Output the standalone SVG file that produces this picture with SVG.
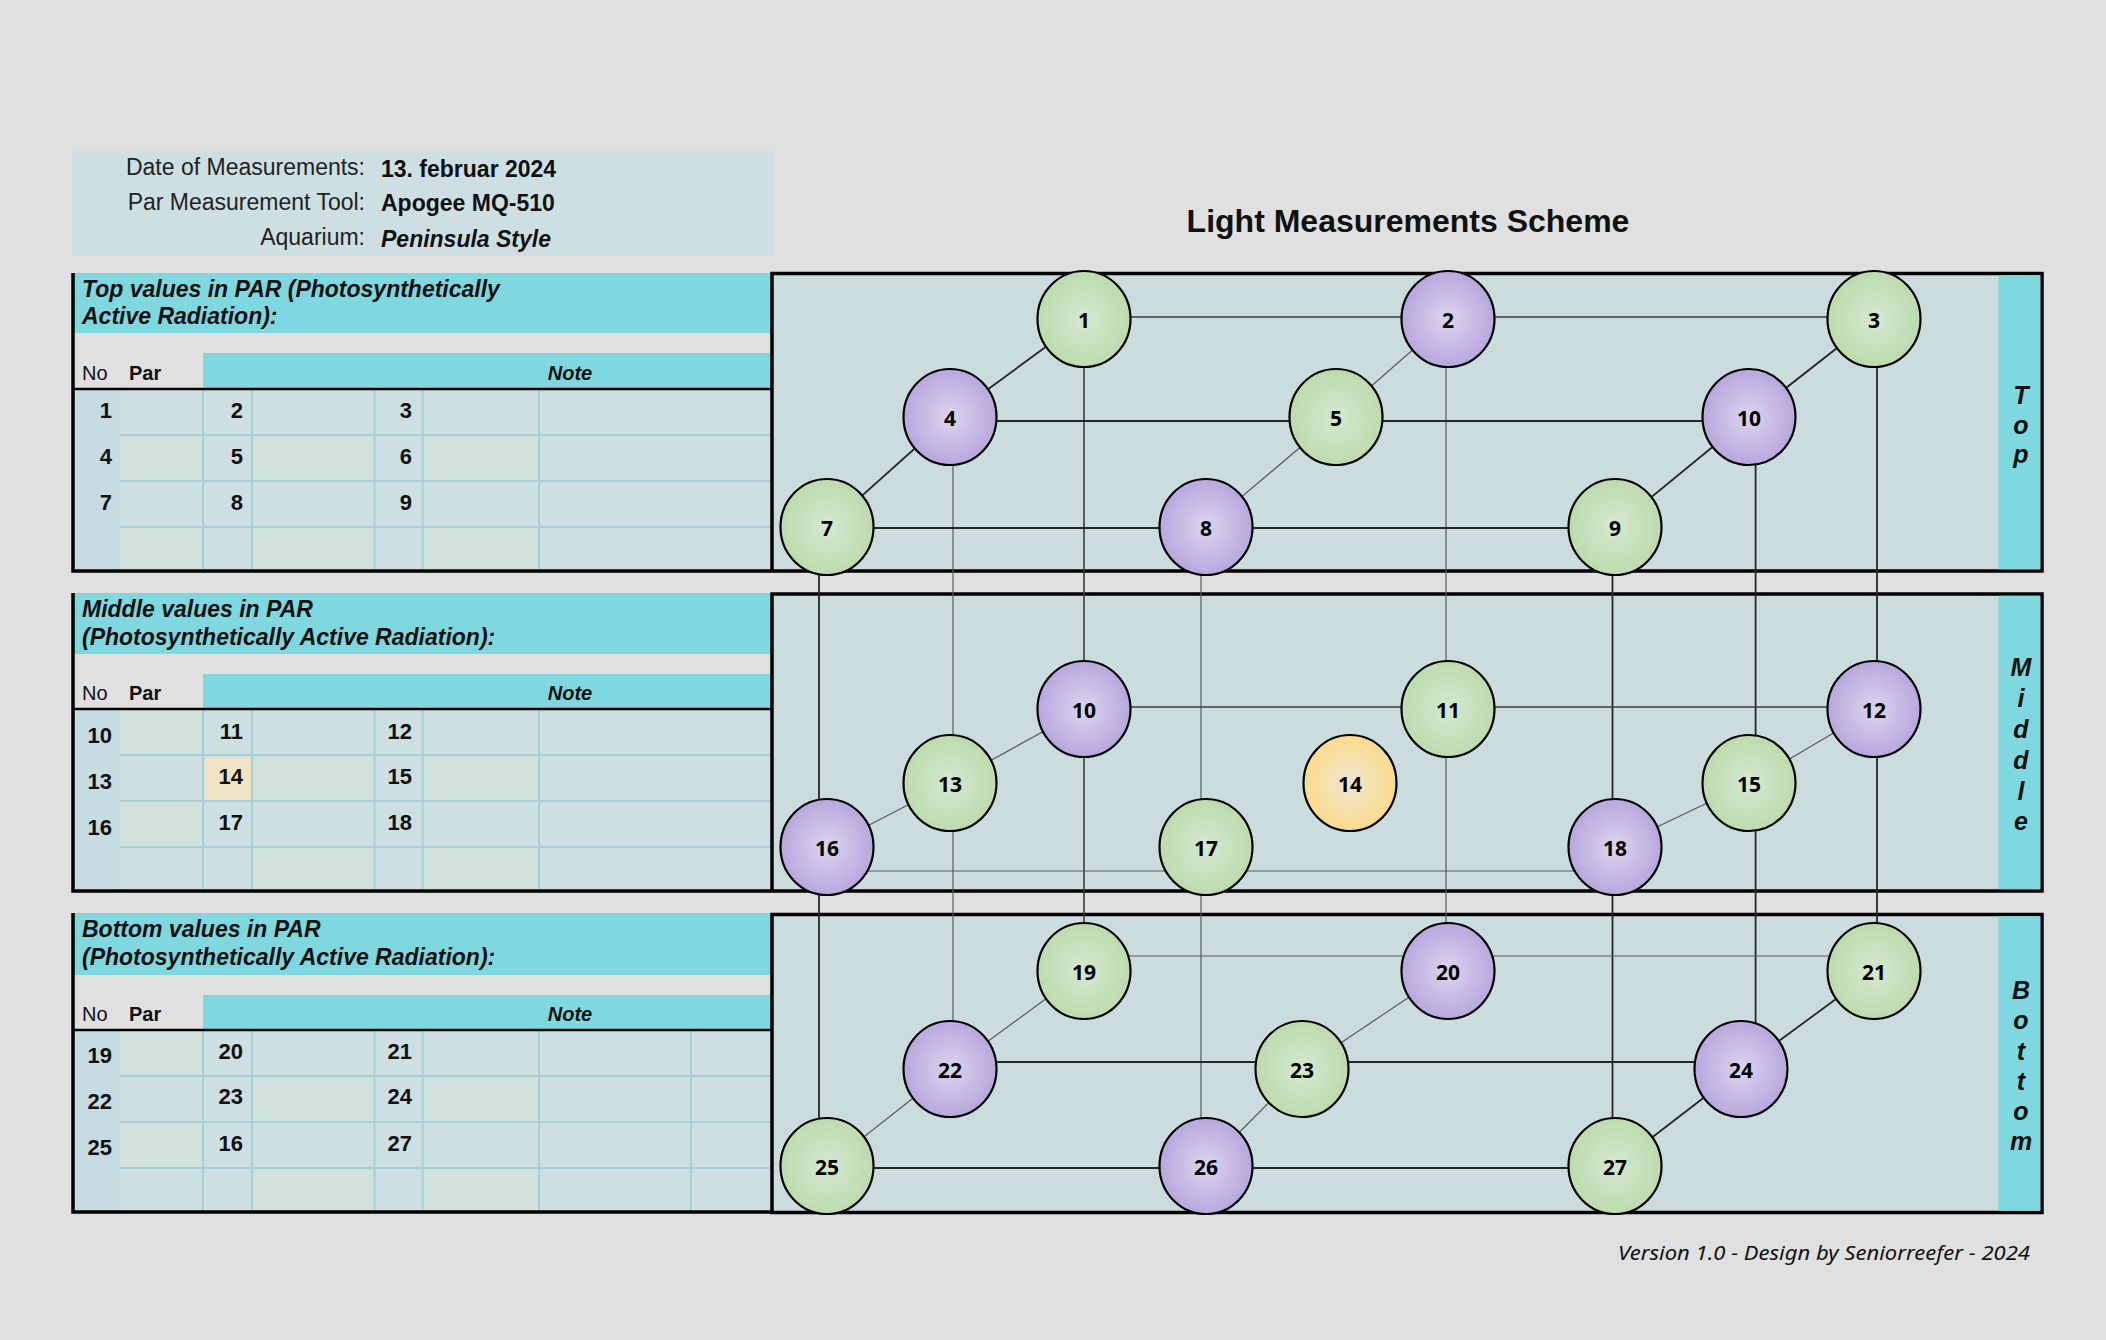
<svg xmlns="http://www.w3.org/2000/svg" width="2106" height="1340" viewBox="0 0 2106 1340">
<defs>
<radialGradient id="gG" cx="50%" cy="50%" r="55%"><stop offset="0%" stop-color="#d6e8d1"/><stop offset="100%" stop-color="#badaaa"/></radialGradient>
<radialGradient id="gP" cx="50%" cy="50%" r="55%"><stop offset="0%" stop-color="#dcd5ee"/><stop offset="100%" stop-color="#b4a3dc"/></radialGradient>
<radialGradient id="gY" cx="50%" cy="50%" r="55%"><stop offset="0%" stop-color="#efe6d2"/><stop offset="100%" stop-color="#fcda84"/></radialGradient>
<style>
.bg{fill:#e0e0e0}
.info{fill:#cddfe3}
.lbl{font-family:"Liberation Sans",Arial,sans-serif;font-size:23px;fill:#222;text-anchor:end}
.val{font-family:"Liberation Sans",Arial,sans-serif;font-size:23px;font-weight:bold;fill:#111}
.vali{font-family:"Liberation Sans",Arial,sans-serif;font-size:23px;font-weight:bold;font-style:italic;fill:#111}
.title{font-family:"Liberation Sans",Arial,sans-serif;font-size:32px;font-weight:bold;fill:#111;text-anchor:middle}
.band{fill:#7fd8df}
.ttl{font-family:"Liberation Sans",Arial,sans-serif;font-size:23px;font-weight:bold;font-style:italic;fill:#111}
.hd{font-family:"Liberation Sans",Arial,sans-serif;font-size:20px;fill:#111}
.hdb{font-family:"Liberation Sans",Arial,sans-serif;font-size:20px;font-weight:bold;fill:#111}
.note{font-family:"Liberation Sans",Arial,sans-serif;font-size:20px;font-weight:bold;font-style:italic;fill:#111;text-anchor:middle}
.num{font-family:"Liberation Sans",Arial,sans-serif;font-size:22px;font-weight:bold;fill:#111;text-anchor:end}
.cb{fill:#cddfe3}
.cg{fill:#d1e2de}
.cn{fill:#c6dce2}
.cy{fill:#efe3c3}
.grid{stroke:#a7cfd6;stroke-width:2;fill:none}
.blk{stroke:#000;stroke-width:3.5;fill:none}
.blk2{stroke:#000;stroke-width:2.5;fill:none}
.panel{fill:#cbdcdf;stroke:#000;stroke-width:3.5}
.strip{fill:#7fd8df}
.side{font-family:"Liberation Sans",Arial,sans-serif;font-size:25px;font-weight:bold;font-style:italic;fill:#111;text-anchor:middle}
.d{stroke:#262626;stroke-width:1.8;fill:none}
.m{stroke:#3c3c3c;stroke-width:1.6;fill:none}
.t{stroke:#5a5a5a;stroke-width:1.2;fill:none}
.node ellipse{stroke:#000;stroke-width:2.2}
.node text{font-family:"Open Sans","Noto Sans",sans-serif;font-size:21px;font-weight:bold;fill:#000;text-anchor:middle}
.foot{font-family:"Noto Sans","Open Sans",sans-serif;font-size:19px;font-style:italic;fill:#111;text-anchor:end}
</style>
</defs>
<rect class="bg" x="0" y="0" width="2106" height="1340"/>

<g id="info">
<rect class="info" x="72" y="151" width="702" height="105"/>
<text class="lbl" x="365" y="175">Date of Measurements:</text>
<text class="lbl" x="365" y="210">Par Measurement Tool:</text>
<text class="lbl" x="365" y="245">Aquarium:</text>
<text class="val" x="381" y="177">13. februar 2024</text>
<text class="val" x="381" y="211">Apogee MQ-510</text>
<text class="vali" x="381" y="247">Peninsula Style</text>
</g>

<text class="title" x="1408" y="232">Light Measurements Scheme</text>

<!-- Top table -->
<g id="table-top">
<rect class="band" x="73" y="273" width="698" height="60"/>
<text class="ttl" x="82" y="297">Top values in PAR (Photosynthetically</text>
<text class="ttl" x="82" y="324">Active Radiation):</text>
<rect class="band" x="203" y="353" width="568" height="36"/>
<text class="hd" x="82" y="380">No</text>
<text class="hdb" x="129" y="380">Par</text>
<text class="note" x="570" y="380">Note</text>
<rect class="cb" x="73" y="389" width="698" height="182"/>
<rect class="cn" x="73" y="389" width="47" height="182"/>
<rect class="cg" x="120" y="435" width="83" height="46"/>
<rect class="cg" x="252" y="435" width="122.5" height="46"/>
<rect class="cg" x="422.7" y="435" width="116.3" height="46"/>
<rect class="cg" x="120" y="527" width="83" height="44"/>
<rect class="cg" x="252" y="527" width="122.5" height="44"/>
<rect class="cg" x="422.7" y="527" width="116.3" height="44"/>
<path class="grid" d="M203 389V571M252 389V571M374.5 389V571M422.7 389V571M539 389V571M120 435H771M120 481H771M120 527H771"/>
<text class="num" x="112" y="418">1</text><text class="num" x="243" y="418">2</text><text class="num" x="412" y="418">3</text>
<text class="num" x="112" y="464">4</text><text class="num" x="243" y="464">5</text><text class="num" x="412" y="464">6</text>
<text class="num" x="112" y="510">7</text><text class="num" x="243" y="510">8</text><text class="num" x="412" y="510">9</text>
<path class="blk2" d="M73 389H771"/>
<path class="blk" d="M73 273V571H771"/>
</g>

<!-- Middle table -->
<g id="table-middle">
<rect class="band" x="73" y="593" width="698" height="61"/>
<text class="ttl" x="82" y="617">Middle values in PAR</text>
<text class="ttl" x="82" y="645">(Photosynthetically Active Radiation):</text>
<rect class="band" x="203" y="674" width="568" height="35"/>
<text class="hd" x="82" y="700">No</text>
<text class="hdb" x="129" y="700">Par</text>
<text class="note" x="570" y="700">Note</text>
<rect class="cb" x="73" y="709" width="698" height="182"/>
<rect class="cn" x="73" y="709" width="47" height="182"/>
<rect class="cg" x="120" y="709" width="83" height="46"/>
<rect class="cg" x="120" y="801" width="83" height="46"/>
<rect class="cg" x="252" y="755" width="122.5" height="46"/>
<rect class="cg" x="422.7" y="755" width="116.3" height="46"/>
<rect class="cg" x="252" y="847" width="122.5" height="44"/>
<rect class="cg" x="422.7" y="847" width="116.3" height="44"/>
<rect class="cy" x="205" y="757" width="46" height="44"/>
<path class="grid" d="M203 709V891M252 709V891M374.5 709V891M422.7 709V891M539 709V891M120 755H771M120 801H771M120 847H771"/>
<text class="num" x="112" y="743">10</text><text class="num" x="243" y="739">11</text><text class="num" x="412" y="739">12</text>
<text class="num" x="112" y="789">13</text><text class="num" x="243" y="784">14</text><text class="num" x="412" y="784">15</text>
<text class="num" x="112" y="835">16</text><text class="num" x="243" y="830">17</text><text class="num" x="412" y="830">18</text>
<path class="blk2" d="M73 709H771"/>
<path class="blk" d="M73 593V891H771"/>
</g>

<!-- Bottom table -->
<g id="table-bottom">
<rect class="band" x="73" y="913" width="698" height="62"/>
<text class="ttl" x="82" y="937">Bottom values in PAR</text>
<text class="ttl" x="82" y="965">(Photosynthetically Active Radiation):</text>
<rect class="band" x="203" y="995" width="568" height="35"/>
<text class="hd" x="82" y="1021">No</text>
<text class="hdb" x="129" y="1021">Par</text>
<text class="note" x="570" y="1021">Note</text>
<rect class="cb" x="73" y="1030" width="698" height="182"/>
<rect class="cn" x="73" y="1030" width="47" height="182"/>
<rect class="cg" x="120" y="1030" width="83" height="46"/>
<rect class="cg" x="120" y="1122" width="83" height="46"/>
<rect class="cg" x="252" y="1076" width="122.5" height="46"/>
<rect class="cg" x="422.7" y="1076" width="116.3" height="46"/>
<rect class="cg" x="252" y="1168" width="122.5" height="44"/>
<rect class="cg" x="422.7" y="1168" width="116.3" height="44"/>
<path class="grid" d="M203 1030V1212M252 1030V1212M374.5 1030V1212M422.7 1030V1212M539 1030V1212M691 1030V1212M120 1076H771M120 1122H771M120 1168H771"/>
<text class="num" x="112" y="1063">19</text><text class="num" x="243" y="1059">20</text><text class="num" x="412" y="1059">21</text>
<text class="num" x="112" y="1109">22</text><text class="num" x="243" y="1104">23</text><text class="num" x="412" y="1104">24</text>
<text class="num" x="112" y="1155">25</text><text class="num" x="243" y="1151">16</text><text class="num" x="412" y="1151">27</text>
<path class="blk2" d="M73 1030H771"/>
<path class="blk" d="M73 913V1212H771"/>
</g>

<!-- Right panels -->
<g id="panel-top">
<rect class="panel" x="772" y="273.5" width="1270" height="297.5"/>
<rect class="strip" x="1998.5" y="275.3" width="41.8" height="294"/>
<text class="side"><tspan x="2021" y="404">T</tspan><tspan x="2021" y="434">o</tspan><tspan x="2021" y="463">p</tspan></text>
</g>
<g id="panel-middle">
<rect class="panel" x="772" y="594" width="1270" height="297"/>
<rect class="strip" x="1998.5" y="595.8" width="41.8" height="293.4"/>
<text class="side"><tspan x="2021" y="676">M</tspan><tspan x="2021" y="707">i</tspan><tspan x="2021" y="738">d</tspan><tspan x="2021" y="769">d</tspan><tspan x="2021" y="800">l</tspan><tspan x="2021" y="830">e</tspan></text>
</g>
<g id="panel-bottom">
<rect class="panel" x="772" y="914.5" width="1270" height="298"/>
<rect class="strip" x="1998.5" y="916.3" width="41.8" height="294.4"/>
<text class="side"><tspan x="2021" y="999">B</tspan><tspan x="2021" y="1029">o</tspan><tspan x="2021" y="1060">t</tspan><tspan x="2021" y="1090">t</tspan><tspan x="2021" y="1120">o</tspan><tspan x="2021" y="1150">m</tspan></text>
</g>

<!-- Connectors -->
<g id="connectors">
<path class="d" d="M819 527V1166"/>
<path class="t" d="M953 417V1069"/>
<path class="m" d="M1084 319V971"/>
<path class="t" d="M1201 527V1166"/>
<path class="t" d="M1446 319V971"/>
<path class="d" d="M1612.5 527V1166"/>
<path class="d" d="M1755.6 417V1069"/>
<path class="d" d="M1877 319V971"/>
<path class="m" d="M1084 317H1874"/>
<path class="d" d="M950 421H1749"/>
<path class="d" d="M827 528H1615"/>
<path class="d" d="M827 527L950 417L1084 319"/>
<path class="t" d="M1206 527L1336 417L1448 319"/>
<path class="d" d="M1615 527L1749 417L1874 319"/>
<path class="m" d="M1084 707H1874"/>
<path class="t" d="M827 871H1615"/>
<path class="t" d="M827 847L950 783L1084 709"/>
<path class="t" d="M1615 847L1749 783L1874 709"/>
<path class="t" d="M1084 956H1874"/>
<path class="d" d="M950 1062H1741"/>
<path class="d" d="M827 1168H1615"/>
<path class="t" d="M827 1166L950 1069L1084 971"/>
<path class="t" d="M1206 1166L1302 1069L1448 971"/>
<path class="d" d="M1615 1166L1741 1069L1874 971"/>
</g>

<!-- Nodes -->
<g id="node-1" class="node"><ellipse fill="url(#gG)" cx="1084" cy="319" rx="46.5" ry="48"/><text x="1084" y="328">1</text></g>
<g id="node-2" class="node"><ellipse fill="url(#gP)" cx="1448" cy="319" rx="46.5" ry="48"/><text x="1448" y="328">2</text></g>
<g id="node-3" class="node"><ellipse fill="url(#gG)" cx="1874" cy="319" rx="46.5" ry="48"/><text x="1874" y="328">3</text></g>
<g id="node-4" class="node"><ellipse fill="url(#gP)" cx="950" cy="417" rx="46.5" ry="48"/><text x="950" y="426">4</text></g>
<g id="node-5" class="node"><ellipse fill="url(#gG)" cx="1336" cy="417" rx="46.5" ry="48"/><text x="1336" y="426">5</text></g>
<g id="node-10-top" class="node"><ellipse fill="url(#gP)" cx="1749" cy="417" rx="46.5" ry="48"/><text x="1749" y="426">10</text></g>
<g id="node-7" class="node"><ellipse fill="url(#gG)" cx="827" cy="527" rx="46.5" ry="48"/><text x="827" y="536">7</text></g>
<g id="node-8" class="node"><ellipse fill="url(#gP)" cx="1206" cy="527" rx="46.5" ry="48"/><text x="1206" y="536">8</text></g>
<g id="node-9" class="node"><ellipse fill="url(#gG)" cx="1615" cy="527" rx="46.5" ry="48"/><text x="1615" y="536">9</text></g>

<g id="node-10" class="node"><ellipse fill="url(#gP)" cx="1084" cy="709" rx="46.5" ry="48"/><text x="1084" y="718">10</text></g>
<g id="node-11" class="node"><ellipse fill="url(#gG)" cx="1448" cy="709" rx="46.5" ry="48"/><text x="1448" y="718">11</text></g>
<g id="node-12" class="node"><ellipse fill="url(#gP)" cx="1874" cy="709" rx="46.5" ry="48"/><text x="1874" y="718">12</text></g>
<g id="node-13" class="node"><ellipse fill="url(#gG)" cx="950" cy="783" rx="46.5" ry="48"/><text x="950" y="792">13</text></g>
<g id="node-14" class="node"><ellipse fill="url(#gY)" cx="1350" cy="783" rx="46.5" ry="48"/><text x="1350" y="792">14</text></g>
<g id="node-15" class="node"><ellipse fill="url(#gG)" cx="1749" cy="783" rx="46.5" ry="48"/><text x="1749" y="792">15</text></g>
<g id="node-16" class="node"><ellipse fill="url(#gP)" cx="827" cy="847" rx="46.5" ry="48"/><text x="827" y="856">16</text></g>
<g id="node-17" class="node"><ellipse fill="url(#gG)" cx="1206" cy="847" rx="46.5" ry="48"/><text x="1206" y="856">17</text></g>
<g id="node-18" class="node"><ellipse fill="url(#gP)" cx="1615" cy="847" rx="46.5" ry="48"/><text x="1615" y="856">18</text></g>

<g id="node-19" class="node"><ellipse fill="url(#gG)" cx="1084" cy="971" rx="46.5" ry="48"/><text x="1084" y="980">19</text></g>
<g id="node-20" class="node"><ellipse fill="url(#gP)" cx="1448" cy="971" rx="46.5" ry="48"/><text x="1448" y="980">20</text></g>
<g id="node-21" class="node"><ellipse fill="url(#gG)" cx="1874" cy="971" rx="46.5" ry="48"/><text x="1874" y="980">21</text></g>
<g id="node-22" class="node"><ellipse fill="url(#gP)" cx="950" cy="1069" rx="46.5" ry="48"/><text x="950" y="1078">22</text></g>
<g id="node-23" class="node"><ellipse fill="url(#gG)" cx="1302" cy="1069" rx="46.5" ry="48"/><text x="1302" y="1078">23</text></g>
<g id="node-24" class="node"><ellipse fill="url(#gP)" cx="1741" cy="1069" rx="46.5" ry="48"/><text x="1741" y="1078">24</text></g>
<g id="node-25" class="node"><ellipse fill="url(#gG)" cx="827" cy="1166" rx="46.5" ry="48"/><text x="827" y="1175">25</text></g>
<g id="node-26" class="node"><ellipse fill="url(#gP)" cx="1206" cy="1166" rx="46.5" ry="48"/><text x="1206" y="1175">26</text></g>
<g id="node-27" class="node"><ellipse fill="url(#gG)" cx="1615" cy="1166" rx="46.5" ry="48"/><text x="1615" y="1175">27</text></g>

<text class="foot" x="2030" y="1260" textLength="412" lengthAdjust="spacingAndGlyphs">Version 1.0 - Design by Seniorreefer - 2024</text>
</svg>
